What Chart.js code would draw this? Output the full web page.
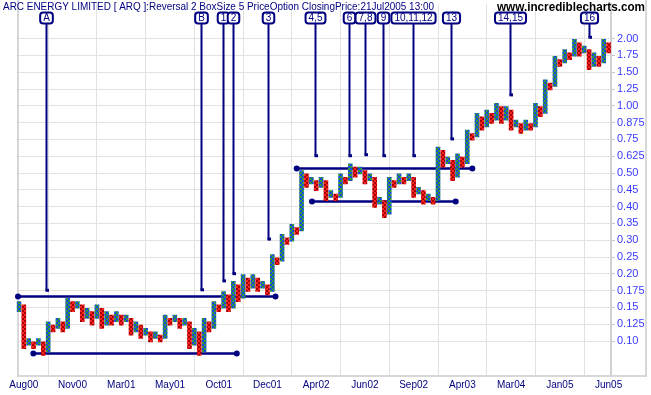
<!DOCTYPE html>
<html lang="en">
<head>
  <meta charset="UTF-8" />
  <title>ARQ Point and Figure</title>
  <script src="https://cdn.jsdelivr.net/npm/chart.js"></script>
  <style>
    body { margin: 0; background: white; }
    canvas { display: block; }
  </style>
</head>
<body>
  <canvas id="pf" width="651" height="395"></canvas>

  <script>
    // price levels shown on the axis (5 boxes between each)
    const yTickLabels = ['0.10','0.125','0.15','0.175','0.20','0.25','0.30','0.35','0.40','0.45',
                         '0.50','0.625','0.75','0.875','1.00','1.25','1.50','1.75','2.00'];
    const xTickCols = [1, 11, 21, 31, 41, 51, 61, 71, 81, 91, 101, 111, 121];
    const xTickLabels = ['Aug00','Nov00','Mar01','May01','Oct01','Dec01','Apr02','Jun02','Sep02','Apr03','Mar04','Jan05','Jun05'];

    // columns alternate X / O starting with X; values are box numbers (0 = 0.10)
    const colLow = [9,-2,-1,-2,-1,-4,-3,3,4,3, 4,9,10,6,7,5,7,4,5,5, 6,5,6,2,3,1,2,0,1,0,
                    1,5,6,4,5,-2,-1,-4,-3,3, 4,9,10,9,10,12,13,15,16,15, 16,14,15,23,24,29,30,32,33,46,
                    47,45,46,42,43,42,43,47,48,49, 50,47,48,40,41,37,38,46,47,47, 48,43,44,41,42,41,42,52,53,48,
                    49,52,53,60,61,63,64,65,66,65, 66,63,64,62,63,63,64,67,68,75, 76,82,83,84,85,85,86,81,82,82,
                    83,86];
    const colHigh = [11,10,0,-1,0,-1,5,4,6,5, 12,11,11,10,9,8,10,9,8,7, 8,7,7,6,5,4,3,2,2,1,
                     7,6,7,6,6,5,3,2,6,5, 11,10,14,13,17,16,19,18,19,18, 17,16,25,24,31,30,34,33,50,49,
                     48,47,48,47,44,43,49,48,52,51, 51,50,49,48,42,41,48,47,49,48, 49,48,45,44,43,42,57,56,54,53,
                     55,54,62,61,67,66,68,67,70,69, 69,68,65,64,65,64,70,69,77,76, 84,83,86,85,89,88,87,86,85,84,
                     89,88];

    // support / resistance lines (x in columns, y in axis steps)
    const srFrom = [-0.19, 2.95, 57.0, 60.14];
    const srTo = [52.65, 44.7, 93.04, 89.63];
    const srLevel = [2.65, -0.74, 10.27, 8.31];

    // numbered call-outs
    const calloutText = ['A','B','1','2','3','4,5','6','7,8','9','10,11,12','13','14,15','16'];
    const calloutCol = [5.49, 37.3, 41.81, 43.95, 51.15, 60.76, 67.73, 71.02, 74.61, 80.87, 88.62, 100.77, 117.05];
    const calloutEnd = [2.99, 3.02, 3.55, 3.98, 6.04, 11.0, 11.0, 11.06, 11.0, 11.0, 12.0, 14.62, 18.05];

    const titleText = 'ARC ENERGY LIMITED [ ARQ ]:Reversal 2 BoxSize 5 PriceOption ClosingPrice:21Jul2005 13:00';
    const NAVY = '#000080';
    const BOXES = 5;

    // checkered fill for the column boxes, cell = 2px
    function boxFill(a, b) {
      const c = document.createElement('canvas');
      c.width = 4; c.height = 4;
      const g = c.getContext('2d');
      g.fillStyle = a; g.fillRect(0, 0, 4, 4);
      g.fillStyle = b; g.fillRect(0, 0, 2, 2); g.fillRect(2, 2, 2, 2);
      return g.createPattern(c, 'repeat');
    }
    const xFill = boxFill('#1c48e0', '#2e9a38');
    const oFill = boxFill('#ff2020', '#a00000');

    const bars = colLow.map((lo, i) => ({ x: i, y: [(lo - 0.25) / BOXES, (colHigh[i] + 0.75) / BOXES] }));
    const barColors = colLow.map((_, i) => i % 2 === 0 ? xFill : oFill);

    const lineSets = srFrom.map((x1, i) => ({
      type: 'line',
      data: [{ x: x1, y: srLevel[i] }, { x: srTo[i], y: srLevel[i] }],
      borderColor: NAVY,
      borderWidth: 2.5,
      pointRadius: 3,
      pointBackgroundColor: NAVY,
      pointBorderWidth: 0,
      clip: false
    }));

    const decor = {
      id: 'decor',
      beforeDraw(chart) {
        const ctx = chart.ctx;
        ctx.save();
        ctx.fillStyle = 'white';
        ctx.fillRect(0, 0, chart.width, chart.height);
        ctx.restore();
      },
      beforeDatasetsDraw(chart) {
        const ctx = chart.ctx;
        const area = chart.chartArea;
        ctx.save();
        // frame
        ctx.strokeStyle = '#d8d8d8';
        ctx.lineWidth = 2;
        ctx.beginPath();
        ctx.moveTo(area.left + 1.5, 0);
        ctx.lineTo(area.left + 1.5, area.bottom);
        ctx.lineTo(chart.width - 5, area.bottom);
        ctx.lineTo(chart.width - 5, 0);
        ctx.stroke();
        ctx.restore();
      },
      afterDraw(chart) {
        const ctx = chart.ctx;
        const xs = chart.scales.x, ys = chart.scales.y;
        ctx.save();
        // call-outs
        ctx.font = '10px "Liberation Sans", Arial, sans-serif';
        ctx.textAlign = 'center';
        ctx.textBaseline = 'middle';
        calloutText.forEach((t, i) => {
          const px = Math.round(xs.getPixelForValue(calloutCol[i])) + 0.5;
          const py = ys.getPixelForValue(calloutEnd[i]);
          ctx.strokeStyle = NAVY;
          ctx.fillStyle = NAVY;
          ctx.lineWidth = 2;
          ctx.beginPath();
          ctx.moveTo(px, 23);
          ctx.lineTo(px, py);
          ctx.stroke();
          ctx.fillRect(px - 1, py - 2, 3.5, 3);
          const w = ctx.measureText(t).width + 6;
          ctx.beginPath();
          ctx.roundRect(px - w / 2, 12.5, w, 11, 3);
          ctx.fillStyle = 'white';
          ctx.fill();
          ctx.stroke();
          ctx.fillStyle = NAVY;
          ctx.fillText(t, px, 18.5);
        });

        // title and site name
        ctx.textAlign = 'left';
        ctx.fillStyle = NAVY;
        ctx.font = '11px "Liberation Sans", Arial, sans-serif';
        ctx.fillText(titleText, 3, 7, 431);
        ctx.textAlign = 'right';
        ctx.fillStyle = 'black';
        ctx.font = 'bold 13px "Liberation Sans", Arial, sans-serif';
        ctx.fillText('www.incrediblecharts.com', 645, 7.5, 148);
        ctx.restore();
      }
    };

    new Chart(document.getElementById('pf'), {
      type: 'bar',
      data: {
        datasets: [
          {
            data: bars,
            backgroundColor: barColors,
            borderWidth: 0,
            barThickness: 4,
            grouped: false
          },
          ...lineSets
        ]
      },
      options: {
        responsive: false,
        animation: false,
        devicePixelRatio: 1,
        layout: { padding: { left: 16.5, right: 0, top: 0, bottom: 0 } },
        plugins: { legend: { display: false }, tooltip: { enabled: false } },
        scales: {
          x: {
            type: 'linear',
            offset: false,
            min: -0.5,
            max: 121.5,
            afterBuildTicks: s => { s.ticks = xTickCols.map(v => ({ value: v })); },
            afterFit: s => { s.height = 19; s.paddingLeft = 0; s.paddingRight = 0; },
            ticks: {
              callback: (v, i) => xTickLabels[i],
              color: NAVY,
              font: { family: '"Liberation Sans", Arial, sans-serif', size: 10 },
              autoSkip: false,
              maxRotation: 0,
              padding: 3
            },
            grid: { color: '#e2e2e2', drawTicks: false },
            border: { display: false }
          },
          y: {
            position: 'right',
            min: -2.08,
            max: 20.06,
            afterBuildTicks: s => { s.ticks = yTickLabels.map((l, i) => ({ value: i })); },
            afterFit: s => { s.width = 40; s.paddingTop = 0; s.paddingBottom = 0; },
            ticks: {
              callback: (v, i) => yTickLabels[i],
              color: '#3a3aff',
              font: { family: '"Liberation Sans", Arial, sans-serif', size: 11 },
              padding: 2
            },
            grid: { color: '#e2e2e2', tickLength: 4, tickColor: '#c8c8c8' },
            border: { color: '#d0d0d0', width: 2 }
          }
        }
      },
      plugins: [decor]
    });
  </script>
</body>
</html>
